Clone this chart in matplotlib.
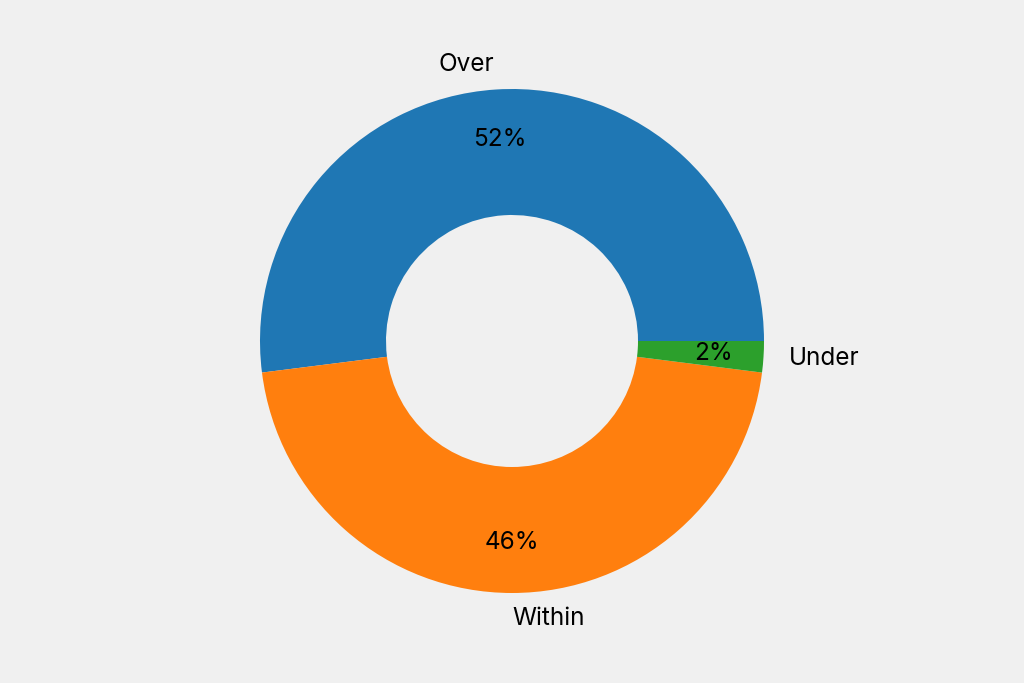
import matplotlib
matplotlib.use("Agg")
import matplotlib.pyplot as plt

# 데이터
labels = ["Over", "Within", "Under"]
values = [52, 46, 2]
colors = ["#1f77b4", "#ff7f0e", "#2ca02c"]

bg = "#f0f0f0"
plt.rcParams["font.family"] = ["Inter", "DejaVu Sans"]

fig = plt.figure(figsize=(10.24, 6.83), dpi=100, facecolor=bg)
ax = fig.add_axes([0, 27 / 683, 1, 630 / 683])
ax.set_facecolor(bg)

wedges, texts, autotexts = ax.pie(
    values,
    labels=labels,
    colors=colors,
    autopct="%1.0f%%",
    pctdistance=0.8,
    labeldistance=1.1,
    wedgeprops=dict(width=0.5, linewidth=0),
    textprops=dict(fontsize=17.5, color="black"),
)
ax.axis("equal")
ax.set_xlim(-1.25, 1.25)
ax.set_ylim(-1.25, 1.25)

fig.savefig("out.png", dpi=100, facecolor=bg)
